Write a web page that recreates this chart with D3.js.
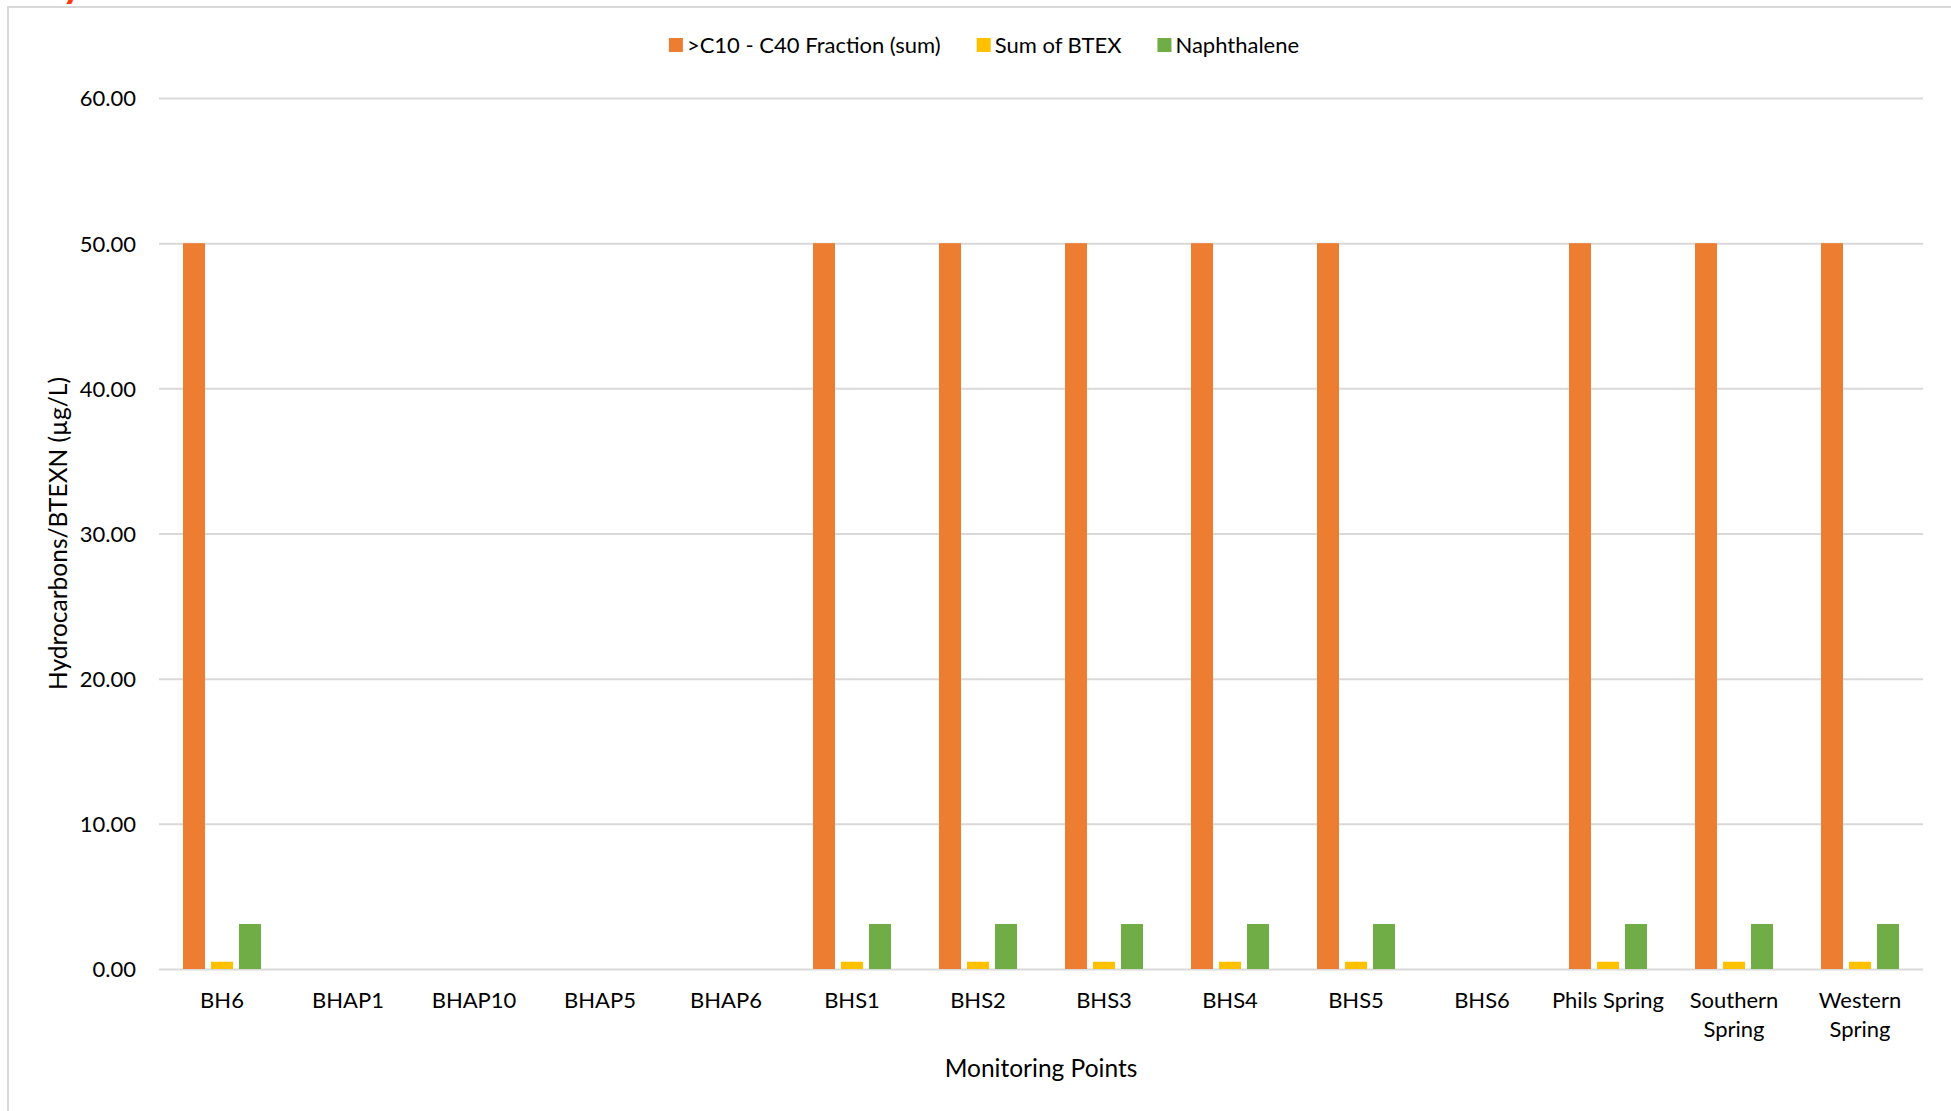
<!DOCTYPE html>
<html>
<head>
<meta charset="utf-8">
<script src="https://cdn.jsdelivr.net/npm/d3@7"></script>
<style>
  body { margin: 0; background: #fff; }
  svg text { font-family: Lato, "Open Sans", sans-serif; fill: #000; }
</style>
</head>
<body>
<script>
// Chart values
const categories = ["BH6", "BHAP1", "BHAP10", "BHAP5", "BHAP6", "BHS1", "BHS2", "BHS3",
    "BHS4", "BHS5", "BHS6", "Phils Spring", "Southern Spring", "Western Spring"];
const seriesNames = [">C10 - C40 Fraction (sum)", "Sum of BTEX", "Naphthalene"];
const seriesColors = ["#ED7D31", "#FFC000", "#70AD47"];
const c10c40 = [50, null, null, null, null, 50, 50, 50, 50, 50, null, 50, 50, 50];
const sumBtex = [0.5, null, null, null, null, 0.5, 0.5, 0.5, 0.5, 0.5, null, 0.5, 0.5, 0.5];
const naphthalene = [3.1, null, null, null, null, 3.1, 3.1, 3.1, 3.1, 3.1, null, 3.1, 3.1, 3.1];
const yTicks = [0, 10, 20, 30, 40, 50, 60];

function drawChart() {
    const width = 1951;
    const height = 1111;
    const plot = { left: 159, right: 1923, top: 98, bottom: 969 };

    const svg = d3.select("body").append("svg")
        .attr("width", width)
        .attr("height", height);

    // chart frame (only top/left visible in the picture)
    svg.append("rect")
        .attr("x", 8).attr("y", 7)
        .attr("width", 1990).attr("height", 1150)
        .attr("fill", "none")
        .attr("stroke", "#d9d9d9")
        .attr("stroke-width", 2);

    // bit of a cut off title at top left
    svg.append("text")
        .attr("x", 62).attr("y", -3)
        .style("font-size", "40px")
        .style("font-weight", "bold")
        .style("fill", "#ff3b12")
        .text("y");

    const x0 = d3.scaleBand()
        .domain(categories)
        .range([plot.left, plot.right]);

    const groupWidth = 78;
    const x1 = d3.scaleBand()
        .domain(d3.range(seriesNames.length))
        .range([0, groupWidth])
        .paddingInner(0.214);

    const y = d3.scaleLinear()
        .domain([0, 60])
        .range([plot.bottom, plot.top]);

    // gridlines + y labels
    const yAxis = svg.append("g")
        .attr("transform", `translate(${plot.left},0)`)
        .call(d3.axisLeft(y)
            .tickValues(yTicks)
            .tickFormat(d3.format(".2f"))
            .tickSize(-(plot.right - plot.left))
            .tickPadding(23));
    yAxis.select(".domain").remove();
    yAxis.selectAll(".tick line")
        .attr("stroke", "#d9d9d9")
        .attr("stroke-width", 2);
    yAxis.selectAll(".tick text")
        .style("font-size", "22px")
        .attr("dy", "0.36em");

    // bars
    const series = [c10c40, sumBtex, naphthalene];
    const offset = (x0.bandwidth() - groupWidth) / 2;
    svg.append("g")
        .selectAll("g")
        .data(series)
        .enter().append("g")
            .attr("fill", (d, i) => seriesColors[i])
            .each(function(values, si) {
                d3.select(this).selectAll("rect")
                    .data(values.map((v, ci) => ({ v: v, c: categories[ci] })).filter(d => d.v != null))
                    .enter().append("rect")
                        .attr("x", d => x0(d.c) + offset + x1(si))
                        .attr("width", x1.bandwidth())
                        .attr("y", d => y(d.v))
                        .attr("height", d => y(0) - y(d.v));
            });

    // x axis labels
    const xAxis = svg.append("g")
        .attr("transform", `translate(0,${plot.bottom})`)
        .call(d3.axisBottom(x0).tickSize(0).tickPadding(0));
    xAxis.select(".domain").remove();
    xAxis.selectAll(".tick text")
        .style("font-size", "22px")
        .attr("y", 39)
        .attr("dy", 0)
        .call(wrap, x0.bandwidth() - 4);

    // axis titles
    svg.append("text")
        .attr("x", (plot.left + plot.right) / 2)
        .attr("y", 1077)
        .attr("text-anchor", "middle")
        .style("font-size", "24.5px")
        .text("Monitoring Points");

    svg.append("text")
        .attr("transform", `translate(67,${(plot.top + plot.bottom) / 2}) rotate(-90)`)
        .attr("text-anchor", "middle")
        .style("font-size", "24.5px")
        .text("Hydrocarbons/BTEXN (µg/L)");

    // legend
    const legend = svg.append("g");
    let lx = 0;
    seriesNames.forEach((name, i) => {
        const item = legend.append("g").attr("transform", `translate(${lx},0)`);
        item.append("rect")
            .attr("x", 0).attr("y", 38)
            .attr("width", 14).attr("height", 14)
            .attr("fill", seriesColors[i]);
        const t = item.append("text")
            .attr("x", 18).attr("y", 53)
            .style("font-size", "22px")
            .text(name);
        lx += 18 + t.node().getComputedTextLength() + 36;
    });
    const legendWidth = lx - 36;
    legend.attr("transform", `translate(${984 - legendWidth / 2},0)`);

    function wrap(text, maxWidth) {
        text.each(function() {
            const t = d3.select(this);
            const words = t.text().split(/\s+/);
            const yy = t.attr("y");
            t.text(null);
            let line = [];
            let lineNo = 0;
            let tspan = t.append("tspan").attr("x", 0).attr("y", yy);
            words.forEach(w => {
                line.push(w);
                tspan.text(line.join(" "));
                if (tspan.node().getComputedTextLength() > maxWidth && line.length > 1) {
                    line.pop();
                    tspan.text(line.join(" "));
                    line = [w];
                    lineNo++;
                    tspan = t.append("tspan").attr("x", 0)
                        .attr("y", +yy + lineNo * 29)
                        .text(w);
                }
            });
        });
    }
}

drawChart();
</script>
</body>
</html>
